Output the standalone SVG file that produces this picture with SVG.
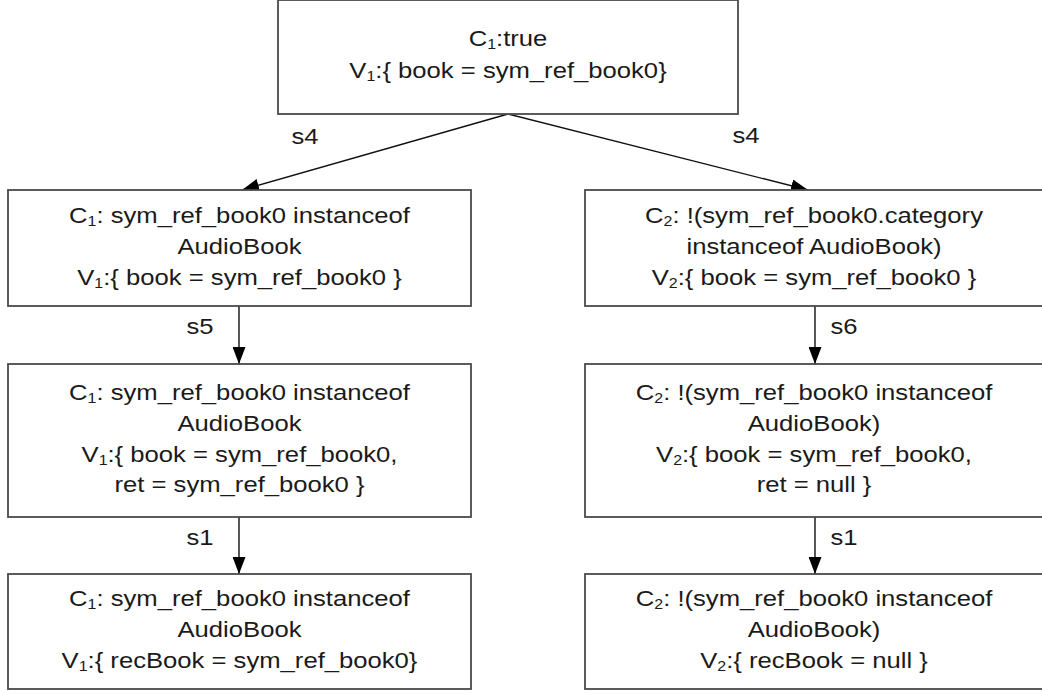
<svg xmlns="http://www.w3.org/2000/svg" width="1042" height="694" viewBox="0 0 1042 694">
  <defs>
    <marker id="arrow" markerUnits="userSpaceOnUse" markerWidth="17" markerHeight="13" refX="17" refY="6.5" orient="auto">
      <path d="M0,0 L17,6.5 L0,13 z" fill="#000"/>
    </marker>
  </defs>
  <style>
    .box { fill: #fff; stroke: #4a4a4a; stroke-width: 1.8; }
    .edge { fill: none; stroke: #111; stroke-width: 1.4; marker-end: url(#arrow); }
    text { font-family: "Liberation Sans", Arial, sans-serif; font-size: 22.5px; fill: #1a1a1a; text-anchor: middle; }
    .sub { font-size: 14px; }
  </style>
  <rect width="1042" height="694" fill="#fff"/>

  <!-- connectors -->
  <g id="edges">
    <line class="edge" x1="508" y1="114" x2="242" y2="190"/>
    <line class="edge" x1="508" y1="114" x2="808" y2="190"/>
    <line class="edge" x1="239" y1="306" x2="239" y2="364"/>
    <line class="edge" x1="815" y1="306" x2="815" y2="364"/>
    <line class="edge" x1="239" y1="517" x2="239" y2="574"/>
    <line class="edge" x1="815" y1="517" x2="815" y2="574"/>
    <g transform="translate(305,144) scale(1.14,1)"><text x="0" y="0">s4</text></g>
    <g transform="translate(746,143) scale(1.14,1)"><text x="0" y="0">s4</text></g>
    <g transform="translate(200,334) scale(1.14,1)"><text x="0" y="0">s5</text></g>
    <g transform="translate(844,334) scale(1.14,1)"><text x="0" y="0">s6</text></g>
    <g transform="translate(200,545) scale(1.14,1)"><text x="0" y="0">s1</text></g>
    <g transform="translate(844,545) scale(1.14,1)"><text x="0" y="0">s1</text></g>
  </g>

  <!-- root state -->
  <g id="n0">
    <rect class="box" x="278" y="0" width="460" height="114"/>
    <g transform="translate(508,0) scale(1.14,1)">
      <text x="0" y="46">C<tspan class="sub" dy="3">1</tspan><tspan dy="-3">:true</tspan></text>
      <text x="0" y="78">V<tspan class="sub" dy="3">1</tspan><tspan dy="-3">:{ book = sym_ref_book0}</tspan></text>
    </g>
  </g>

  <!-- left branch -->
  <g id="n1">
    <rect class="box" x="8" y="190" width="463" height="116"/>
    <g transform="translate(239.5,0) scale(1.14,1)">
      <text x="0" y="223">C<tspan class="sub" dy="3">1</tspan><tspan dy="-3">: sym_ref_book0 instanceof</tspan></text>
      <text x="0" y="254">AudioBook</text>
      <text x="0" y="285">V<tspan class="sub" dy="3">1</tspan><tspan dy="-3">:{ book = sym_ref_book0 }</tspan></text>
    </g>
  </g>

  <g id="n3">
    <rect class="box" x="8" y="364" width="463" height="153"/>
    <g transform="translate(239.5,0) scale(1.14,1)">
      <text x="0" y="400">C<tspan class="sub" dy="3">1</tspan><tspan dy="-3">: sym_ref_book0 instanceof</tspan></text>
      <text x="0" y="431">AudioBook</text>
      <text x="0" y="462">V<tspan class="sub" dy="3">1</tspan><tspan dy="-3">:{ book = sym_ref_book0,</tspan></text>
      <text x="0" y="492">ret = sym_ref_book0 }</text>
    </g>
  </g>

  <g id="n5">
    <rect class="box" x="8" y="574" width="463" height="115"/>
    <g transform="translate(239.5,0) scale(1.14,1)">
      <text x="0" y="606">C<tspan class="sub" dy="3">1</tspan><tspan dy="-3">: sym_ref_book0 instanceof</tspan></text>
      <text x="0" y="637">AudioBook</text>
      <text x="0" y="668">V<tspan class="sub" dy="3">1</tspan><tspan dy="-3">:{ recBook = sym_ref_book0}</tspan></text>
    </g>
  </g>

  <!-- right branch -->
  <g id="n2">
    <rect class="box" x="585" y="190" width="462" height="116"/>
    <g transform="translate(814,0) scale(1.14,1)">
      <text x="0" y="223">C<tspan class="sub" dy="3">2</tspan><tspan dy="-3">: !(sym_ref_book0.category</tspan></text>
      <text x="0" y="254">instanceof AudioBook)</text>
      <text x="0" y="285">V<tspan class="sub" dy="3">2</tspan><tspan dy="-3">:{ book = sym_ref_book0 }</tspan></text>
    </g>
  </g>

  <g id="n4">
    <rect class="box" x="585" y="364" width="462" height="153"/>
    <g transform="translate(814,0) scale(1.14,1)">
      <text x="0" y="400">C<tspan class="sub" dy="3">2</tspan><tspan dy="-3">: !(sym_ref_book0 instanceof</tspan></text>
      <text x="0" y="431">AudioBook)</text>
      <text x="0" y="462">V<tspan class="sub" dy="3">2</tspan><tspan dy="-3">:{ book = sym_ref_book0,</tspan></text>
      <text x="0" y="492">ret = null }</text>
    </g>
  </g>

  <g id="n6">
    <rect class="box" x="585" y="574" width="462" height="115"/>
    <g transform="translate(814,0) scale(1.14,1)">
      <text x="0" y="606">C<tspan class="sub" dy="3">2</tspan><tspan dy="-3">: !(sym_ref_book0 instanceof</tspan></text>
      <text x="0" y="637">AudioBook)</text>
      <text x="0" y="668">V<tspan class="sub" dy="3">2</tspan><tspan dy="-3">:{ recBook = null }</tspan></text>
    </g>
  </g>
</svg>
